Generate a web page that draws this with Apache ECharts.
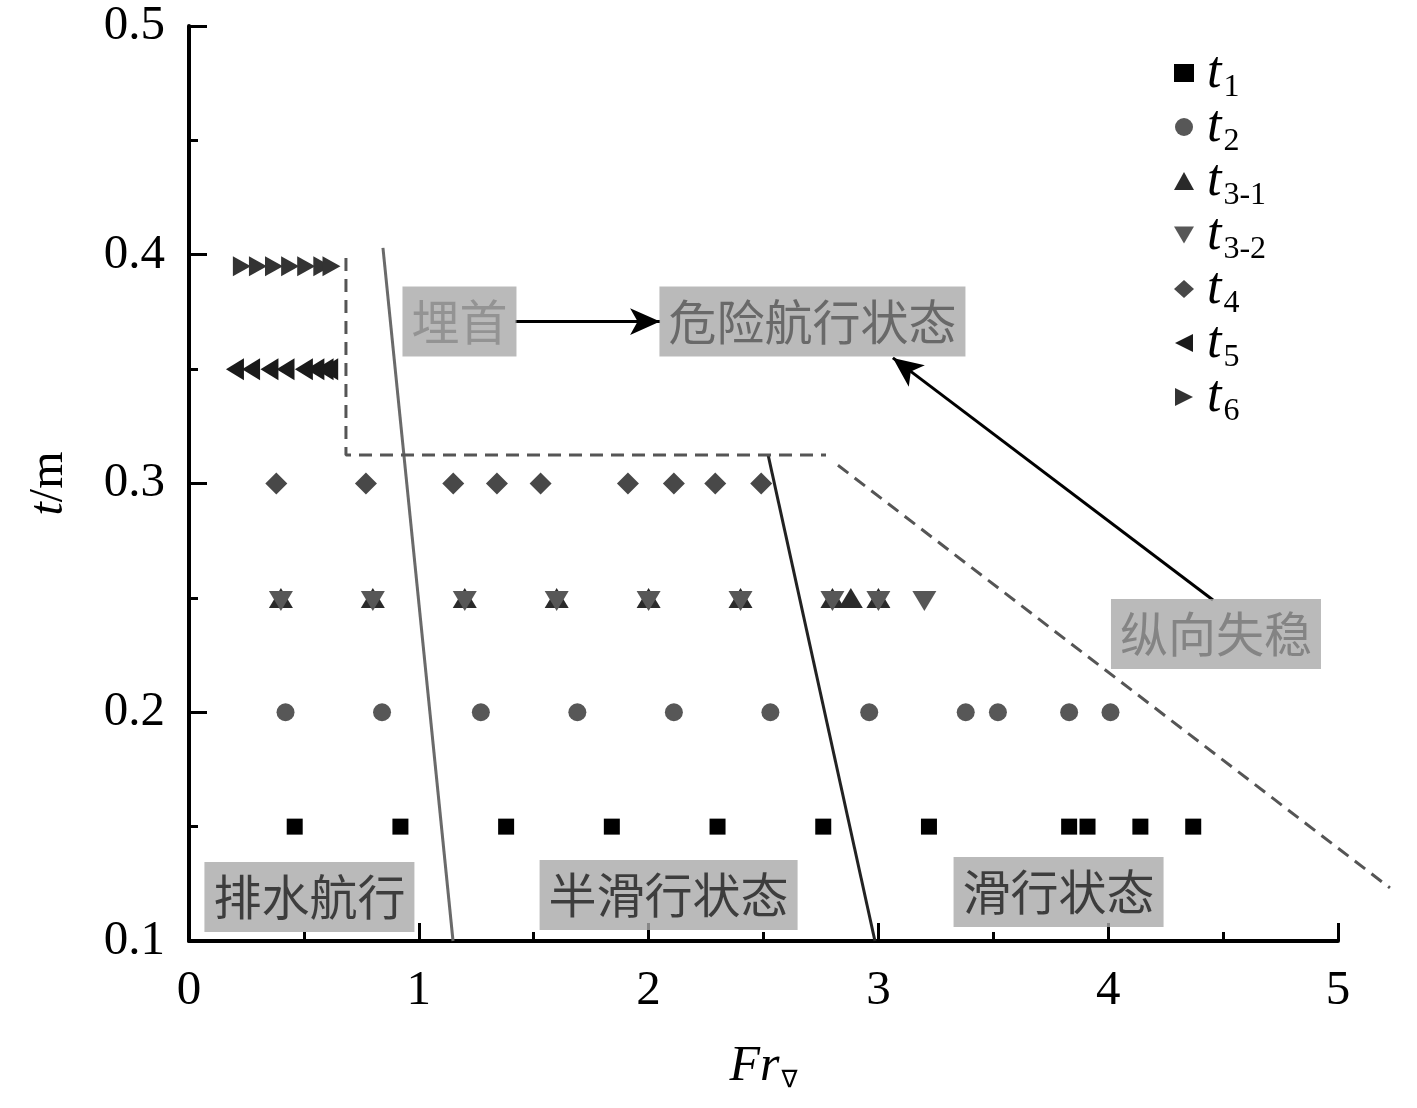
<!DOCTYPE html>
<html>
<head>
<meta charset="utf-8">
<script src="https://cdn.jsdelivr.net/npm/echarts@6/dist/echarts.min.js"></script>
<style>
  html, body { margin: 0; padding: 0; background: #fff; }
  #chartBox { width: 1417px; height: 1108px; }
</style>
</head>
<body>
<div id="chartBox"></div>
<script>
// measured points (Fr, t)
const t1X = [0.46, 0.92, 1.38, 1.84, 2.30, 2.76, 3.22, 3.83, 3.91, 4.14, 4.37];
const t1Y = 0.15;
const t2X = [0.42, 0.84, 1.27, 1.69, 2.11, 2.53, 2.96, 3.38, 3.52, 3.83, 4.01];
const t2Y = 0.2;
const t31X = [0.40, 0.80, 1.20, 1.60, 2.00, 2.40, 2.80, 2.88, 3.00];
const t32X = [0.40, 0.80, 1.20, 1.60, 2.00, 2.40, 2.80, 3.00, 3.20];
const t3Y = 0.25;
const t4X = [0.38, 0.77, 1.15, 1.34, 1.53, 1.91, 2.11, 2.29, 2.49];
const t4Y = 0.3;
const t5X = [0.20, 0.27, 0.35, 0.42, 0.50, 0.55, 0.59, 0.61];
const t5Y = 0.35;
const t6X = [0.23, 0.30, 0.37, 0.44, 0.51, 0.58, 0.62];
const t6Y = 0.395;

// region boundaries
const boundaryA = [[0.844, 0.403], [1.149, 0.1]];
const boundaryB = [[2.52, 0.3125], [2.985, 0.1]];
const dashedA = [[0.683, 0.3986], [0.683, 0.3125], [2.772, 0.3125]];
const dashedB = [[2.824, 0.308], [5.226, 0.1232]];

// region labels: [text, Fr, t]
const regionLabels = [
  ["埋首", 1.177, 0.3708],
  ["危险航行状态", 2.713, 0.3708],
  ["纵向失稳", 4.469, 0.2342],
  ["排水航行", 0.524, 0.1192],
  ["半滑行状态", 2.087, 0.1201],
  ["滑行状态", 3.784, 0.1214]
];
const labelColors = ["#8a8a8a", "#555", "#777", "#1e1e1e", "#1e1e1e", "#1e1e1e"];

// arrows: [from, to]
const arrows = [
  [[1.419, 0.3708], [2.05, 0.3708]],
  [[4.456, 0.2491], [3.063, 0.3549]]
];

const xTicks = [0, 1, 2, 3, 4, 5];
const yTicks = [0.1, 0.2, 0.3, 0.4, 0.5];

const serif = "'Liberation Serif', 'Times New Roman', serif";
const cjk = "'Noto Sans CJK SC', sans-serif";

const pts = (xs, y) => xs.map(x => [x, y]);

const chartDom = document.getElementById("chartBox");
const myChart = echarts.init(chartDom);

const legendNames = [
  ["t1", "1"], ["t2", "2"], ["t3-1", "3-1"], ["t3-2", "3-2"],
  ["t4", "4"], ["t5", "5"], ["t6", "6"]
];

// grid 1 keeps the same scale as grid 0 but runs to Fr = 5.3,
// so the last dashed line can go past the end of the axis
const plotW = 1149;
const wideMax = 5.3;
const lineSeries = (data, color, dashed, wide) => ({
  type: "line",
  data: data,
  xAxisIndex: wide ? 1 : 0,
  yAxisIndex: wide ? 1 : 0,
  symbol: "none",
  silent: true,
  z: 1,
  lineStyle: { color: color, width: 3, type: dashed ? [13, 8] : "solid" }
});

const scatter = (name, data, symbol, size, color, extra) => Object.assign({
  name: name,
  type: "scatter",
  data: data,
  symbol: symbol,
  symbolSize: size,
  itemStyle: { color: color, opacity: 1 },
  z: 3
}, extra || {});

const hiddenAxis = {
  show: false,
  splitLine: { show: false },
  axisLine: { show: false },
  axisTick: { show: false },
  axisLabel: { show: false }
};

const option = {
  animation: false,
  backgroundColor: "#fff",
  grid: [
    { left: 189, right: 79, top: 26, bottom: 167 },
    { left: 189, width: plotW * wideMax / 5, top: 26, bottom: 167 }
  ],
  legend: {
    orient: "vertical",
    left: 1169,
    top: 42,
    itemWidth: 20,
    itemHeight: 18,
    itemGap: -3,
    data: legendNames.map(d => d[0]),
    formatter: function (name) {
      const sub = legendNames.find(d => d[0] === name)[1];
      return "{t|t}{s|" + sub + "}";
    },
    textStyle: {
      rich: {
        t: { fontFamily: serif, fontStyle: "italic", fontSize: 52, color: "#000", lineHeight: 52, padding: [0, 0, 0, 8] },
        s: { fontFamily: serif, fontSize: 32, color: "#000", padding: [30, 0, 0, 2] }
      }
    }
  },
  xAxis: [
    {
      type: "value",
      gridIndex: 0,
      min: 0,
      max: 5,
      interval: 1,
      name: "{i|Fr}{s|∇}",
      nameLocation: "middle",
      nameGap: 100,
      nameTextStyle: {
        rich: {
          i: { fontFamily: serif, fontStyle: "italic", fontSize: 50, color: "#000" },
          s: { fontFamily: "'DejaVu Sans', sans-serif", fontSize: 24, color: "#000", padding: [28, 0, 0, 2] }
        }
      },
      axisLine: { lineStyle: { color: "#000", width: 4 } },
      axisTick: { inside: true, length: 18, lineStyle: { width: 3, color: "#000" } },
      minorTick: { show: true, splitNumber: 2, length: 9, lineStyle: { width: 3, color: "#000" } },
      axisLabel: {
        margin: 26,
        fontFamily: serif,
        fontSize: 49,
        color: "#000",
        formatter: v => xTicks.includes(v) ? String(v) : ""
      },
      splitLine: { show: false }
    },
    Object.assign({ type: "value", gridIndex: 1, min: 0, max: wideMax }, hiddenAxis)
  ],
  yAxis: [
    {
      type: "value",
      gridIndex: 0,
      min: 0.1,
      max: 0.5,
      interval: 0.1,
      name: "{i|t}{n|/m}",
      nameLocation: "middle",
      nameRotate: 90,
      nameGap: 116,
      nameTextStyle: {
        rich: {
          i: { fontFamily: serif, fontStyle: "italic", fontSize: 48, color: "#000" },
          n: { fontFamily: serif, fontSize: 48, color: "#000" }
        }
      },
      axisLine: { lineStyle: { color: "#000", width: 4 } },
      axisTick: { inside: true, length: 18, lineStyle: { width: 3, color: "#000" } },
      minorTick: { show: true, splitNumber: 2, length: 9, lineStyle: { width: 3, color: "#000" } },
      axisLabel: {
        margin: 24,
        fontFamily: serif,
        fontSize: 49,
        color: "#000",
        formatter: v => {
          const hit = yTicks.find(t => Math.abs(t - v) < 1e-6);
          return hit !== undefined ? hit.toFixed(1) : "";
        }
      },
      splitLine: { show: false }
    },
    Object.assign({ type: "value", gridIndex: 1, min: 0.1, max: 0.5 }, hiddenAxis)
  ],
  series: [
    lineSeries(boundaryA, "#6a6a6a", false),
    lineSeries(boundaryB, "#222", false),
    lineSeries(dashedA, "#555", true),
    lineSeries(dashedB, "#555", true, true),
    scatter("t1", pts(t1X, t1Y), "rect", 16, "#000"),
    scatter("t2", pts(t2X, t2Y), "circle", 18, "#575757"),
    scatter("t3-1", pts(t31X, t3Y), "triangle", [24, 20], "#2a2a2a"),
    scatter("t3-2", pts(t32X, t3Y), "path://M0,0 L10,0 L5,8.5 Z", [24, 20], "#575757",
      { symbolOffset: [0, 3], z: 4 }),
    scatter("t4", pts(t4X, t4Y), "diamond", 22, "#484848"),
    scatter("t5", pts(t5X, t5Y), "path://M10,0 L0,5 L10,10 Z", [18, 22], "#1a1a1a"),
    scatter("t6", pts(t6X, t6Y), "path://M0,0 L10,5 L0,10 Z", [18, 20], "#333"),
    {
      type: "scatter",
      silent: true,
      symbolSize: 0,
      z: 6,
      data: regionLabels.map((d, i) => ({
        value: [d[1], d[2]],
        label: {
          show: true,
          position: "inside",
          formatter: d[0],
          fontFamily: cjk,
          fontSize: 48,
          lineHeight: 48,
          color: labelColors[i],
          backgroundColor: "#a9a9a9",
          padding: [11, 9, 11, 9]
        }
      })),
      markLine: {
        silent: true,
        symbol: ["none", "arrow"],
        symbolSize: [20, 30],
        label: { show: false },
        lineStyle: { color: "#000", width: 3, type: "solid" },
        data: arrows.map(a => [{ coord: a[0] }, { coord: a[1] }])
      }
    }
  ]
};

myChart.setOption(option);
</script>
</body>
</html>
